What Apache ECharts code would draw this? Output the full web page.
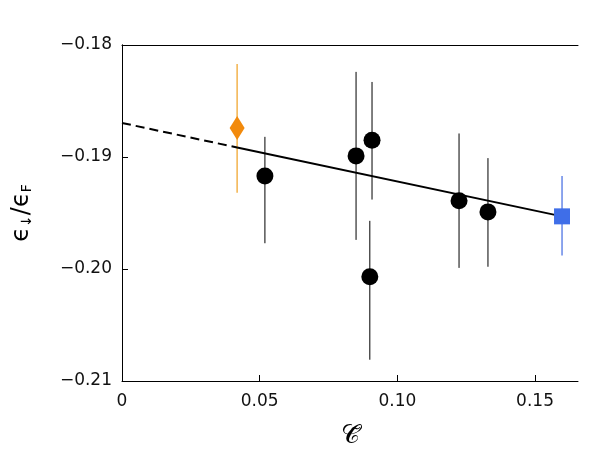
<!DOCTYPE html>
<html><head><meta charset="utf-8">
<script src="https://cdn.jsdelivr.net/npm/echarts@6/dist/echarts.min.js"></script>
<style>html,body{margin:0;background:#fff}#c{width:600px;height:459px}</style></head>
<body><div id="c"></div>
<script>
const blackX=[0.0519,0.085,0.0908,0.090,0.1224,0.1329];
const blackY=[-0.1917,-0.1899,-0.1885,-0.2007,-0.1939,-0.1949];
const blackLo=[-0.1977,-0.1974,-0.1938,-0.2081,-0.1999,-0.1998];
const blackHi=[-0.1882,-0.1824,-0.1833,-0.1957,-0.1879,-0.1901];
const orange=[0.0418,-0.1874,-0.1932,-0.1817];
const blue=[0.1598,-0.1953,-0.1988,-0.1917];
const fitDashed=[[0,-0.18696],[0.0418,-0.18915]];
const fitSolid=[[0.0418,-0.18915],[0.1598,-0.1953]];
const xTicks=[0,0.05,0.10,0.15];
const fmtY=v=>'\u2212'+Math.abs(v).toFixed(2);
function errSeries(data,color,w){
  return {type:'custom',data:data,z:1,renderItem:(p,api)=>{
    const a=api.coord([api.value(0),api.value(1)]),b=api.coord([api.value(0),api.value(2)]);
    return {type:'line',shape:{x1:a[0],y1:a[1],x2:b[0],y2:b[1]},style:{stroke:color,lineWidth:w}};
  }};
}
const font='"DejaVu Sans", sans-serif';
const box={show:true,lineStyle:{color:'#000',width:1}};
const chart=echarts.init(document.getElementById('c'));
chart.setOption({
  animation:false,
  grid:{left:122,right:22,top:45,bottom:78},
  xAxis:[{type:'value',min:0,max:0.1656,interval:0.05,
    axisLine:box,axisTick:{inside:true,length:6,lineStyle:{color:'#000'}},
    splitLine:{show:false},
    axisLabel:{color:'#111',fontSize:17,fontFamily:font,margin:12,showMaxLabel:false,
      formatter:v=>{const t=xTicks.find(t=>Math.abs(t-v)<1e-9);return t===undefined?'':(t===0?'0':t.toFixed(2));}},
    name:'\uD835\uDC9E\u0303',nameLocation:'middle',nameGap:42,nameTextStyle:{fontSize:26,color:'#000',fontFamily:'"DejaVu Serif", serif'}},
    {type:'value',position:'top',min:0,max:0.1656,axisLine:box,axisTick:{show:false},axisLabel:{show:false},splitLine:{show:false}}],
  yAxis:[{type:'value',min:-0.21,max:-0.18,interval:0.01,
    axisLine:box,axisTick:{inside:true,length:6,lineStyle:{color:'#000'}},
    splitLine:{show:false},
    axisLabel:{color:'#111',fontSize:17,fontFamily:font,margin:10,formatter:fmtY},
    name:'{a|\u03F5}{s|\u2193}{a|/\u03F5}{s|F}',nameLocation:'middle',nameGap:88,nameRotate:90,
    nameTextStyle:{rich:{a:{fontSize:24,color:'#000',fontFamily:font},s:{fontSize:14,color:'#000',fontFamily:font,verticalAlign:'bottom',padding:[10,0,0,0]}}}},
    {type:'value',position:'right',min:-0.21,max:-0.18,axisLine:box,axisTick:{show:false},axisLabel:{show:false},splitLine:{show:false}}],
  series:[
    {type:'line',data:fitDashed,symbol:'none',lineStyle:{color:'#000',width:2,type:[9,5]},z:2},
    {type:'line',data:fitSolid,symbol:'none',lineStyle:{color:'#000',width:2},z:2},
    errSeries(blackX.map((x,i)=>[x,blackLo[i],blackHi[i]]),'#000',1),
    errSeries([[orange[0],orange[2],orange[3]]],'#f0a020',1.2),
    errSeries([[blue[0],blue[2],blue[3]]],'#4169e1',1.2),
    {type:'scatter',data:blackX.map((x,i)=>[x,blackY[i]]),symbol:'circle',symbolSize:17,itemStyle:{color:'#000',opacity:1},z:5},
    {type:'scatter',data:[[orange[0],orange[1]]],symbol:'diamond',symbolSize:[15,24],itemStyle:{color:'#f28a0c',opacity:1},z:5},
    {type:'scatter',data:[[blue[0],blue[1]]],symbol:'rect',symbolSize:16,itemStyle:{color:'#3f6ee8',opacity:1},z:5}
  ]
});
</script></body></html>
